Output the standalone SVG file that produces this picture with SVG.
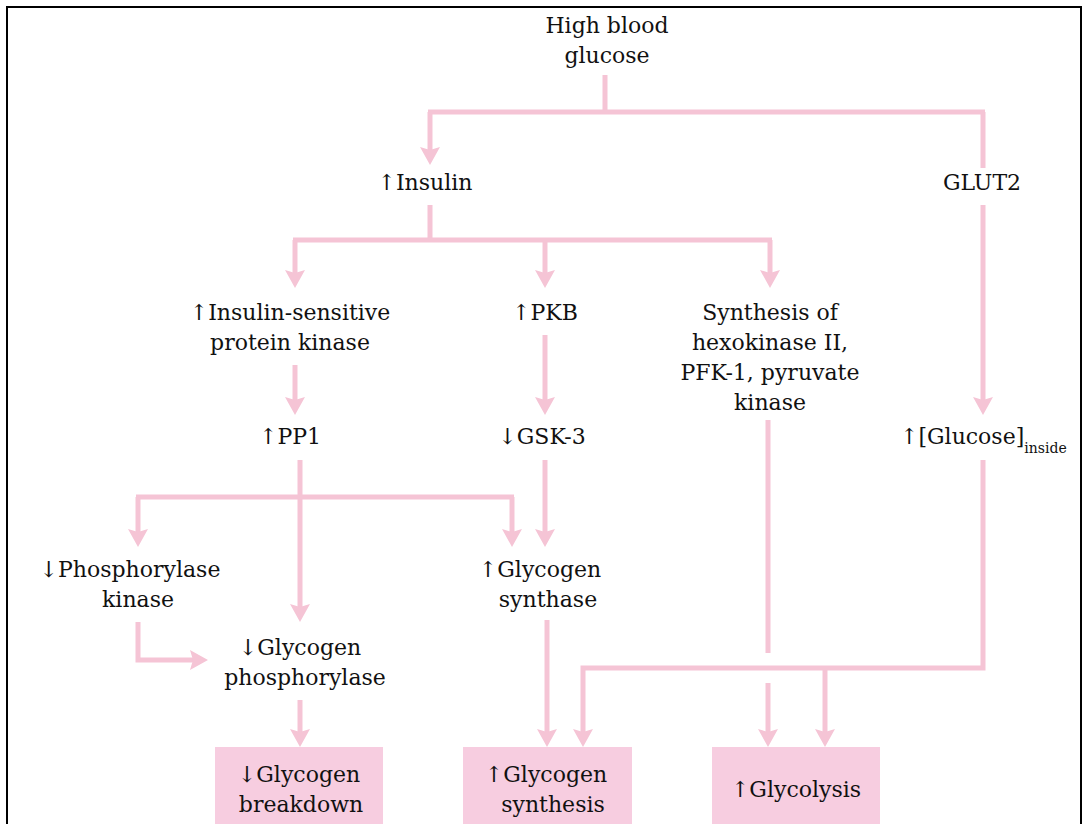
<svg xmlns="http://www.w3.org/2000/svg" width="1088" height="824" viewBox="0 0 1088 824">
<style>
text{font-family:"DejaVu Serif","Liberation Serif",serif;font-size:22px;fill:#111;text-anchor:middle}
.sub{font-size:14px}
.c{fill:none;stroke:#f5c4d5;stroke-width:5}
.box{fill:#f7cde0}
</style>
<defs>
<marker id="ah" viewBox="0 0 18 22" refX="8" refY="11" markerWidth="18" markerHeight="22" markerUnits="userSpaceOnUse" orient="auto">
<path d="M0,1 L18,11 L0,21 L3,11 z" fill="#f5c4d5"/>
</marker>
</defs>
<rect x="7" y="7" width="1074" height="830" fill="#fff" stroke="#000" stroke-width="2"/>
<g id="connectors">
<path class="c" d="M605,75 V112 M428,112 H985 M983,112 V168"/>
<path class="c" d="M430,112 V155" marker-end="url(#ah)"/>
<path class="c" d="M430,205 V240 M293,240 H772"/>
<path class="c" d="M295,240 V278" marker-end="url(#ah)"/>
<path class="c" d="M545,240 V278" marker-end="url(#ah)"/>
<path class="c" d="M770,240 V278" marker-end="url(#ah)"/>
<path class="c" d="M295,365 V405" marker-end="url(#ah)"/>
<path class="c" d="M545,335 V405" marker-end="url(#ah)"/>
<path class="c" d="M983,205 V405" marker-end="url(#ah)"/>
<path class="c" d="M300,460 V612" marker-end="url(#ah)"/>
<path class="c" d="M136,497 H514"/>
<path class="c" d="M138,497 V537" marker-end="url(#ah)"/>
<path class="c" d="M512,497 V537" marker-end="url(#ah)"/>
<path class="c" d="M545,460 V537" marker-end="url(#ah)"/>
<path class="c" d="M138,622 V660 H198" marker-end="url(#ah)"/>
<path class="c" d="M300,700 V737" marker-end="url(#ah)"/>
<path class="c" d="M547,620 V737" marker-end="url(#ah)"/>
<path class="c" d="M768,420 V653"/>
<path class="c" d="M768,683 V737" marker-end="url(#ah)"/>
<path class="c" d="M983,460 V668 H583 V737" marker-end="url(#ah)"/>
<path class="c" d="M825,668 V737" marker-end="url(#ah)"/>
</g>
<g id="high-blood-glucose"><text x="607" y="33">High blood</text><text x="607" y="63">glucose</text></g>
<g id="insulin"><text x="425" y="190">↑Insulin</text></g>
<g id="glut2"><text x="982" y="190">GLUT2</text></g>
<g id="insulin-sensitive-kinase"><text x="290" y="320">↑Insulin-sensitive</text><text x="290" y="350">protein kinase</text></g>
<g id="pkb"><text x="545" y="320">↑PKB</text></g>
<g id="synthesis-enzymes"><text x="770" y="320">Synthesis of</text><text x="770" y="350">hexokinase II,</text><text x="770" y="380">PFK-1, pyruvate</text><text x="770" y="410">kinase</text></g>
<g id="pp1"><text x="290" y="444">↑PP1</text></g>
<g id="gsk3"><text x="542" y="444">↓GSK-3</text></g>
<g id="glucose-inside"><text x="900" y="444" style="text-anchor:start">↑[Glucose]<tspan class="sub" dy="9">inside</tspan></text></g>
<g id="phosphorylase-kinase"><text x="130" y="577">↓Phosphorylase</text><text x="138" y="607">kinase</text></g>
<g id="glycogen-synthase"><text x="540" y="577">↑Glycogen</text><text x="548" y="607">synthase</text></g>
<g id="glycogen-phosphorylase"><text x="300" y="655">↓Glycogen</text><text x="305" y="685">phosphorylase</text></g>
<g id="glycogen-breakdown"><rect class="box" x="215" y="747" width="168" height="90"/><text x="299" y="782">↓Glycogen</text><text x="301" y="812">breakdown</text></g>
<g id="glycogen-synthesis"><rect class="box" x="463" y="747" width="169" height="90"/><text x="546" y="782">↑Glycogen</text><text x="553" y="812">synthesis</text></g>
<g id="glycolysis"><rect class="box" x="712" y="747" width="168" height="90"/><text x="796" y="797">↑Glycolysis</text></g>
</svg>
